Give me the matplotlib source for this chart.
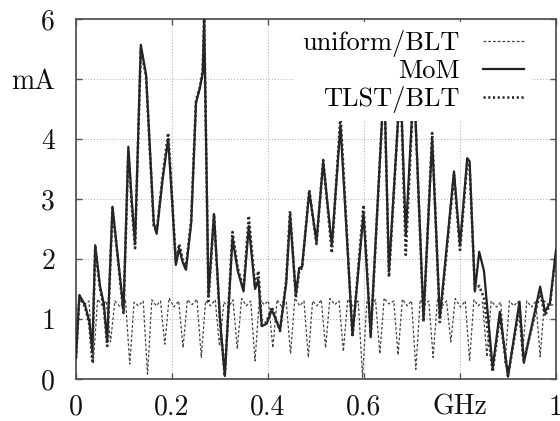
import matplotlib
matplotlib.use("Agg")
import matplotlib.pyplot as plt

plt.rcParams['font.family'] = ['cmr10', 'DejaVu Serif']
plt.rcParams['axes.formatter.use_mathtext'] = True
plt.rcParams['mathtext.fontset'] = 'cm'

# ---------------- data ----------------
mom_f = [0.000, 0.007, 0.019, 0.028, 0.034, 0.040, 0.050, 0.058, 0.065, 0.076,
         0.099, 0.109, 0.116, 0.123, 0.135, 0.146, 0.162, 0.168, 0.180, 0.192,
         0.200, 0.208, 0.215, 0.222, 0.229, 0.240, 0.250, 0.258, 0.264, 0.267,
         0.276, 0.2875, 0.300, 0.310, 0.326, 0.337, 0.349, 0.360, 0.373, 0.380,
         0.387, 0.397, 0.408, 0.425, 0.438, 0.446, 0.458, 0.465, 0.471, 0.486,
         0.501, 0.515, 0.533, 0.551, 0.576, 0.599, 0.614, 0.642, 0.652, 0.676,
         0.687, 0.704, 0.724, 0.742, 0.758, 0.7875, 0.800, 0.815, 0.820, 0.831,
         0.840, 0.850, 0.868, 0.883, 0.900, 0.924, 0.933, 0.967, 0.977, 0.9875,
         1.000]
mom_v = [0.35, 1.40, 1.23, 0.95, 0.46, 2.23, 1.55, 1.25, 0.62, 2.87,
         1.15, 3.87, 3.00, 2.25, 5.57, 5.07, 2.60, 2.42, 3.30, 4.00,
         3.00, 1.90, 2.18, 1.95, 1.82, 2.60, 4.60, 4.85, 5.10, 6.00,
         1.40, 2.75, 1.00, 0.05, 2.35, 1.80, 1.46, 2.55, 1.50, 1.65,
         0.88, 0.92, 1.15, 0.82, 1.60, 2.73, 1.40, 1.85, 1.87, 3.12,
         2.29, 3.62, 2.23, 4.23, 0.73, 2.76, 0.73, 5.00, 1.79, 5.00,
         2.40, 5.00, 1.02, 4.00, 1.02, 3.46, 2.23, 3.68, 3.63, 1.46,
         2.12, 1.80, 0.18, 1.12, 0.04, 1.29, 0.27, 1.54, 1.12, 1.27,
         2.15]
tlst_v = [0.35, 1.38, 1.20, 0.90, 0.30, 2.20, 1.50, 1.20, 0.55, 2.85,
          1.10, 3.80, 2.90, 2.18, 5.50, 5.05, 2.55, 2.45, 3.35, 4.10,
          3.05, 1.95, 2.25, 2.00, 1.85, 2.65, 4.65, 4.85, 5.15, 6.00,
          1.30, 2.75, 0.95, 0.05, 2.45, 1.85, 1.50, 2.72, 1.55, 1.80,
          0.90, 0.95, 1.20, 0.80, 1.65, 2.80, 1.35, 1.80, 1.85, 3.15,
          2.25, 3.65, 2.10, 4.40, 0.70, 2.90, 0.70, 5.00, 1.70, 5.00,
          2.07, 5.00, 0.95, 4.10, 0.95, 3.40, 2.15, 3.60, 3.55, 1.50,
          1.55, 1.35, 0.12, 1.05, 0.05, 1.20, 0.30, 1.45, 1.05, 1.25,
          2.10]

uni_f = [0.000, 0.010, 0.018, 0.027, 0.036, 0.045, 0.055, 0.063, 0.072, 0.081,
         0.092, 0.103, 0.112, 0.121, 0.130, 0.140, 0.149, 0.158, 0.167, 0.176,
         0.185, 0.194, 0.204, 0.214, 0.223, 0.232, 0.242, 0.252, 0.261, 0.270,
         0.280, 0.290, 0.299, 0.308, 0.318, 0.327, 0.336, 0.345, 0.355, 0.364,
         0.373, 0.382, 0.392, 0.401, 0.410, 0.419, 0.429, 0.438, 0.447, 0.456,
         0.466, 0.475, 0.484, 0.493, 0.502, 0.511, 0.520, 0.529, 0.539, 0.548,
         0.557, 0.566, 0.578, 0.588, 0.597, 0.606, 0.615, 0.624, 0.633, 0.642,
         0.652, 0.662, 0.671, 0.680, 0.690, 0.699, 0.708, 0.717, 0.726, 0.735,
         0.744, 0.753, 0.763, 0.772, 0.781, 0.790, 0.801, 0.811, 0.820, 0.829,
         0.838, 0.847, 0.856, 0.865, 0.876, 0.885, 0.894, 0.903, 0.912, 0.921,
         0.930, 0.939, 0.949, 0.958, 0.967, 0.976, 0.986, 1.000]
uni_v = [1.15, 1.30, 1.25, 1.30, 0.27, 1.33, 1.22, 1.30, 0.62, 1.30,
         1.20, 1.33, 0.25, 1.28, 1.22, 1.30, 0.08, 1.32, 1.22, 1.30,
         0.58, 1.35, 1.20, 1.30, 0.52, 1.32, 1.24, 1.33, 0.36, 1.30,
         1.22, 1.32, 0.55, 1.28, 1.20, 1.32, 0.50, 1.34, 1.22, 1.30,
         0.30, 1.33, 1.24, 1.30, 0.52, 1.32, 1.20, 1.28, 0.42, 1.35,
         1.22, 1.30, 0.36, 1.30, 1.22, 1.32, 0.52, 1.34, 1.24, 1.30,
         0.46, 1.33, 1.20, 1.30, 0.03, 1.30, 1.22, 1.32, 0.42, 1.35,
         1.25, 1.30, 0.40, 1.33, 1.22, 1.30, 0.16, 1.32, 1.24, 1.30,
         0.36, 1.32, 1.22, 1.30, 0.62, 1.34, 1.20, 1.30, 0.30, 1.32,
         1.22, 1.28, 0.37, 1.30, 1.20, 1.28, 0.27, 1.30, 1.22, 1.29,
         0.37, 1.30, 1.20, 1.30, 0.37, 1.30, 1.22, 1.25]

x_ticks = [0, 0.2, 0.4, 0.6, 0.8, 1.0]
x_labels = ['0', '0.2', '0.4', '0.6', 'GHz', '1']
y_ticks = [0, 1, 2, 3, 4, 5, 6]
y_labels = ['0', '1', '2', '3', '4', 'mA', '6']

# ---------------- figure ----------------
fig = plt.figure(figsize=(5.6, 4.21), dpi=100)
ax = fig.add_axes([76/560, 1-379/421, 480/560, 360/421])

frame_c = '#555555'
ax.plot(uni_f, uni_v, color='#444444', lw=0.9, ls=(0, (2.2, 1.6)), label='uniform/BLT', zorder=3)
ax.plot(mom_f, mom_v, color='#222222', lw=1.6, ls='-', label='MoM', zorder=4)
ax.plot(mom_f, tlst_v, color='#2a2a2a', lw=1.9, ls=(0, (0.8, 1.0)), label='TLST/BLT', zorder=5)

ax.set_xlim(0, 1)
ax.set_ylim(0, 6)
ax.set_xticks(x_ticks)
ax.set_xticklabels(x_labels)
ax.set_yticks(y_ticks)
ax.set_yticklabels(y_labels)
ax.tick_params(direction='in', length=4.5, width=1.0, color=frame_c,
               top=True, right=True, labelsize=20, labelcolor='#111111')
ax.tick_params(axis='y', pad=15)
ax.tick_params(axis='x', pad=11)
ax.grid(True, color='#aaaaaa', lw=0.7, ls=(0, (1, 2)))
ax.set_axisbelow(True)
for s in ax.spines.values():
    s.set_color(frame_c)
    s.set_linewidth(1.3)

leg = ax.legend(loc='upper right', bbox_to_anchor=((532-76)/480, (379-22)/360),
                borderaxespad=0, borderpad=0.3, markerfirst=False, fontsize=19,
                handlelength=1.55, handletextpad=0.9, labelspacing=0.1,
                frameon=True, fancybox=False, framealpha=1.0)
leg.get_frame().set_facecolor('white')
leg.get_frame().set_edgecolor('none')
leg.set_zorder(10)

fig.savefig('out.png', dpi=100)
